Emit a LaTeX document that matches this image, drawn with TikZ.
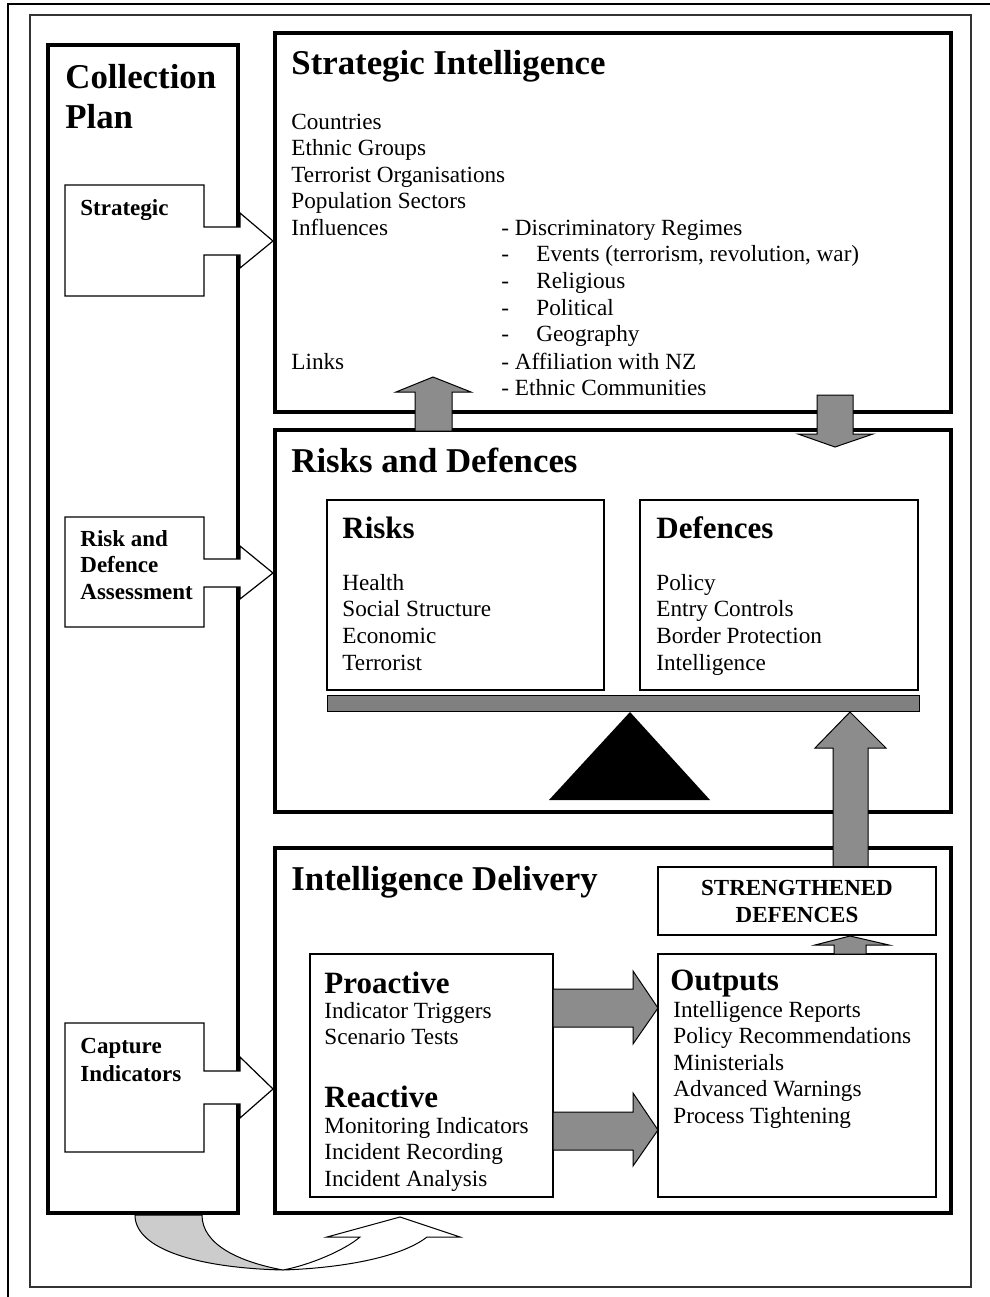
\documentclass[tikz,border=0pt]{standalone}
\usepackage{fontspec}
\setmainfont{Liberation Serif}
\newcommand\bodyfont{\fontsize{11.6pt}{13.35pt}\selectfont}
\newcommand\lowfont{\fontsize{11.6pt}{13.35pt}\selectfont}
\newcommand\bighead{\fontsize{17.4pt}{20pt}\selectfont\bfseries}
\newcommand\subhead{\fontsize{15.5pt}{18pt}\selectfont\bfseries}
\newcommand\smallbold{\fontsize{11.5pt}{13.3pt}\selectfont\bfseries}
\definecolor{arrowgray}{HTML}{8C8C8C}
\definecolor{beamgray}{HTML}{808080}
\definecolor{curvegray}{HTML}{CCCCCC}
\begin{document}
\begin{tikzpicture}[x=0.5pt,y=-0.5pt,
  thickbox/.style={line width=2.3pt, line join=miter},
  thinbox/.style={line width=0.6pt, draw=black, fill=white},
  blockarrow/.style={fill=arrowgray, draw=black, line width=0.5pt, line join=miter},
  callout/.style={fill=white, draw=black, line width=0.6pt, line join=miter},
  txt/.style={anchor=base west, inner sep=0pt, font=\bodyfont},
  lowtxt/.style={anchor=base west, inner sep=0pt, font=\lowfont},
  headtxt/.style={anchor=base west, inner sep=0pt, font=\bighead},
  subtxt/.style={anchor=base west, inner sep=0pt, font=\subhead},
  labtxt/.style={anchor=base west, inner sep=0pt, font=\smallbold}]
\useasboundingbox (0,0) rectangle (990,1297);
\fill[white] (0,0) rectangle (990,1297);

% frames
\draw[line width=0.75pt] (8,1297) -- (8,4) -- (990,4);
\draw[line width=0.6pt, draw=black!80] (30,15) rectangle (971,1287);

% curved arrow (grey underside)
\draw[fill=curvegray, line width=0.5pt] (135,1215) .. controls (135,1250) and (200,1268) .. (283,1270)
  .. controls (240,1262) and (202,1245) .. (202,1215) -- cycle;
% curved arrow (white top face)
\draw[fill=white, line width=0.5pt, line join=miter] (283,1270) .. controls (340,1268) and (400,1258) .. (427,1237)
  -- (460,1237) -- (400,1217) -- (327,1237) -- (360,1237)
  .. controls (345,1250) and (310,1265) .. (283,1270) -- cycle;

% main boxes
\draw[thickbox] (48,45) rectangle (238,1213);
\draw[thickbox] (275,33) rectangle (951,412);
\draw[thickbox] (275,430) rectangle (951,812);
\draw[thickbox] (275,848) rectangle (951,1213);

% callouts from the collection plan
\draw[callout] (65,185) -- (204,185) -- (204,227) -- (240,227) -- (240,213) -- (273,241)
  -- (240,268) -- (240,255) -- (204,255) -- (204,296) -- (65,296) -- cycle;
\draw[callout] (65,517) -- (204,517) -- (204,559) -- (240,559) -- (240,546) -- (273,573)
  -- (240,599) -- (240,587) -- (204,587) -- (204,627) -- (65,627) -- cycle;
\draw[callout] (65,1023) -- (204,1023) -- (204,1071) -- (240,1071) -- (240,1057) -- (273,1089)
  -- (240,1118) -- (240,1104) -- (204,1104) -- (204,1152) -- (65,1152) -- cycle;

% arrows between strategic intelligence and risks
\draw[blockarrow] (415,431) -- (415,392) -- (396,392) -- (433,377) -- (471,392) -- (452,392) -- (452,431) -- cycle;
\draw[blockarrow] (817,395) -- (853,395) -- (853,434) -- (873,434) -- (835,447) -- (798,434) -- (817,434) -- cycle;

% inner boxes of risks and defences
\draw[thinbox] (327,500) rectangle (604,690);
\draw[thinbox] (640,500) rectangle (918,690);
\draw[fill=beamgray, draw=black, line width=0.5pt] (327,695) rectangle (919,711);
\fill[black] (630,712) -- (710,800) -- (549,800) -- cycle;

% arrow up to the beam
\draw[blockarrow] (833,867) -- (833,748) -- (815,748) -- (850,712) -- (886,748) -- (868,748) -- (868,867) -- cycle;

% intelligence delivery boxes
\draw[thinbox] (658,867) rectangle (936,935);
\draw[thinbox] (658,954) rectangle (936,1197);
\draw[thinbox] (310,954) rectangle (553,1197);
\draw[blockarrow] (834,954) -- (834,945) -- (815,945) -- (850,936) -- (889,945) -- (866,945) -- (866,954) -- cycle;
\draw[blockarrow] (553,989) -- (633,989) -- (633,971) -- (658,1008) -- (633,1044) -- (633,1027) -- (553,1027) -- cycle;
\draw[blockarrow] (553,1112) -- (633,1112) -- (633,1093) -- (658,1130) -- (633,1166) -- (633,1150) -- (553,1150) -- cycle;

% headings
\node[headtxt] (cp1) at (65,88) {Collection};
\node[headtxt] (cp2) at (65,128) {Plan};
\node[headtxt] (sih) at (291,74) {Strategic Intelligence};
\node[headtxt] (rdh) at (291,472) {Risks and Defences};
\node[headtxt] (idh) at (291,890) {Intelligence Delivery};

% callout labels
\node[labtxt] (l1) at (80,215) {Strategic};
\node[labtxt] (l2) at (80,546) {Risk and};
\node[labtxt] (l3) at (80,572) {Defence};
\node[labtxt] (l4) at (80,599) {Assessment};
\node[labtxt] (l5) at (80,1053) {Capture};
\node[labtxt] (l6) at (80,1081) {Indicators};

% strategic intelligence text
\foreach \t [count=\i] in {Countries, Ethnic Groups, Terrorist Organisations, Population Sectors, Influences}
  \node[txt] (si\i) at (291,{129+26.6*(\i-1)}) {\t};
\node[txt] (inf0) at (501,235) {- Discriminatory Regimes};
\foreach \t [count=\i] in {{Events (terrorism, revolution, war)}, Religious, Political, Geography} {
  \node[txt] (dash\i) at (501,{235+26.7*\i}) {-};
  \node[txt] (inf\i) at (536,{235+26.7*\i}) {\t};
}
\node[txt] (links) at (291,369) {Links};
\node[txt] (lk1) at (501,369) {- Affiliation with NZ};
\node[txt] (lk2) at (501,395) {- Ethnic Communities};

% risks and defences text
\node[subtxt] (rh) at (342,538) {Risks};
\node[subtxt] (dh) at (656,538) {Defences};
\foreach \t [count=\i] in {Health, Social Structure, Economic, Terrorist}
  \node[lowtxt] (r\i) at (342,{590+26.9*(\i-1)}) {\t};
\foreach \t [count=\i] in {Policy, Entry Controls, Border Protection, Intelligence}
  \node[lowtxt] (d\i) at (656,{590+26.9*(\i-1)}) {\t};

% intelligence delivery text
\node[labtxt, anchor=base] (sd1) at (797,895) {STRENGTHENED};
\node[labtxt, anchor=base] (sd2) at (797,922) {DEFENCES};
\node[subtxt] (pro) at (324,993) {Proactive};
\node[lowtxt] (p1) at (324,1018) {Indicator Triggers};
\node[lowtxt] (p2) at (324,1044) {Scenario Tests};
\node[subtxt] (rea) at (324,1107) {Reactive};
\foreach \t [count=\i] in {Monitoring Indicators, Incident Recording, Incident Analysis}
  \node[lowtxt] (re\i) at (324,{1133+26.7*(\i-1)}) {\t};
\node[subtxt] (out) at (670,990) {Outputs};
\foreach \t [count=\i] in {Intelligence Reports, Policy Recommendations, Ministerials, Advanced Warnings, Process Tightening}
  \node[lowtxt] (o\i) at (673,{1017+26.6*(\i-1)}) {\t};
\end{tikzpicture}
\end{document}
